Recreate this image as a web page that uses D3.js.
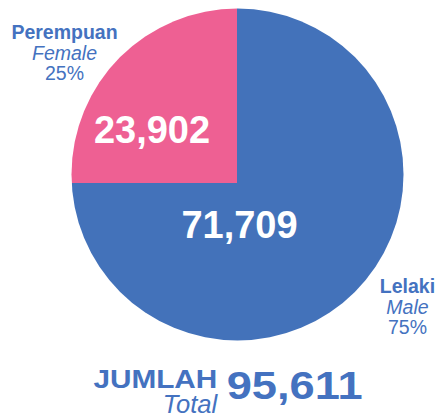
<!DOCTYPE html>
<html><head><meta charset="utf-8">
<script src="https://cdn.jsdelivr.net/npm/d3@7"></script>
<style>body{margin:0;background:#fff}svg{display:block}text{font-family:"Liberation Sans",Arial,sans-serif}</style>
</head><body>
<svg id="c" width="437" height="419"></svg>
<script>
const categories = ["Lelaki", "Perempuan"];
const categoriesEn = ["Male", "Female"];
const values = [71709, 23902];
const percents = ["75%", "25%"];
const totalLabel = ["JUMLAH", "Total"];
const total = 95611;
const colors = ["#4372BA", "#EE6093"];
const textBlue = "#4472C0";

const svg = d3.select("#c");
const cx = 237.5, cy = 174.5, R = 166;
const vx = 237, vy = 183;

svg.append("defs").append("clipPath").attr("id","pc")
  .append("circle").attr("cx",cx).attr("cy",cy).attr("r",R);

const pie = d3.pie().sort(null).startAngle(0).endAngle(2*Math.PI);
const arcs = pie(values);
const arc = d3.arc().innerRadius(0).outerRadius(R*1.4);

const g = svg.append("g").attr("clip-path","url(#pc)")
  .append("g").attr("transform",`translate(${vx},${vy})`);
g.selectAll("path").data(arcs).join("path")
  .attr("d", arc).attr("fill",(d,i)=>colors[i]);

const fmt = d3.format(",");
// value labels
const valPos = [[239.5, 238.3], [152, 143]];
svg.selectAll("text.val").data(values).join("text").attr("class","val")
  .attr("x",(d,i)=>valPos[i][0]).attr("y",(d,i)=>valPos[i][1])
  .attr("text-anchor","middle").attr("fill","#fff")
  .attr("font-weight","bold").attr("font-size",38)
  .text(d=>fmt(d));

// category labels
const labPos = [[407.5, 293.3], [64.5, 39.3]];
categories.forEach((c,i)=>{
  const t = svg.append("text").attr("text-anchor","middle").attr("fill",textBlue).attr("font-size",19.5);
  t.append("tspan").attr("x",labPos[i][0]).attr("y",labPos[i][1]).attr("font-weight","bold").text(c);
  t.append("tspan").attr("x",labPos[i][0]).attr("y",labPos[i][1]+20.3).attr("font-style","italic").text(categoriesEn[i]);
  t.append("tspan").attr("x",labPos[i][0]).attr("y",labPos[i][1]+40.7).text(percents[i]);
});

// total
svg.append("text").attr("transform","translate(217.3,387.7) scale(1.19,1)")
  .attr("text-anchor","end").attr("fill",textBlue).attr("font-weight","bold").attr("font-size",25)
  .text(totalLabel[0]);
svg.append("text").attr("x",217.3).attr("y",413.3)
  .attr("text-anchor","end").attr("fill",textBlue).attr("font-style","italic").attr("font-size",25.6)
  .text(totalLabel[1]);
svg.append("text").attr("transform","translate(226.7,399.3) scale(1.175,1)")
  .attr("fill",textBlue).attr("font-weight","bold").attr("font-size",38.5)
  .text(fmt(total));
</script>
</body></html>
